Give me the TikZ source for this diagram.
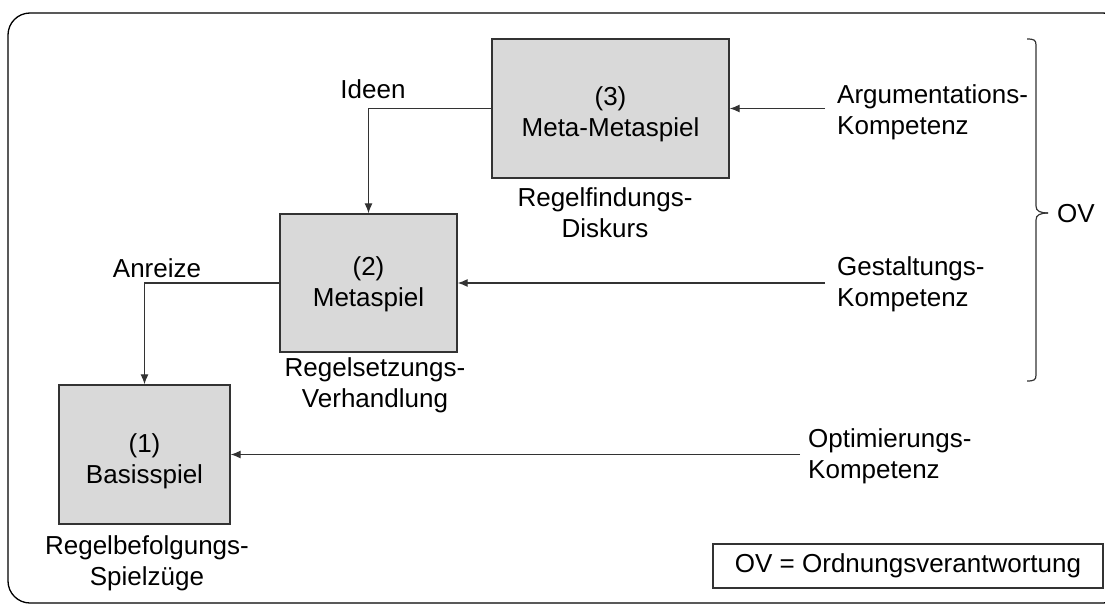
\documentclass[tikz,border=0pt]{standalone}
\usepackage{fontspec}
\setmainfont{Liberation Sans}
\usetikzlibrary{arrows.meta}
\definecolor{boxfill}{HTML}{D9D9D9}
\definecolor{linec}{HTML}{333333}
\tikzset{
  every node/.style={font=\fontsize{26}{31}\selectfont, text=black},
  gamebox/.style={draw=linec, line width=1.3pt, fill=boxfill, inner sep=0pt},
  lbl/.style={align=center, inner sep=0pt},
  lbll/.style={align=left, inner sep=0pt, anchor=west},
  arr/.style={draw=linec, line width=1.2pt, -{Latex[length=10pt,width=8pt]}},
}
\begin{document}
\begin{tikzpicture}[x=1pt,y=-1pt]
\useasboundingbox (0,0) rectangle (1105,605);
\clip (0,0) rectangle (1105,605);
\draw[line width=1.3pt, rounded corners=22pt, draw=black] (8,13) rectangle (1125,603);

% boxes
\node[gamebox, minimum width=237pt, minimum height=139pt] (b3) at (610.5,108.5) {};
\node[gamebox, minimum width=177pt, minimum height=138pt] (b2) at (368.5,283) {};
\node[gamebox, minimum width=171pt, minimum height=139pt] (b1) at (144.5,454.5) {};
\node[lbl] (t3) at (610.5,114) {(3)\\Meta-Metaspiel};
\node[lbl] (t2) at (368.5,284) {(2)\\Metaspiel};
\node[lbl] (t1) at (144.5,461) {(1)\\Basisspiel};

% captions
\node[lbl] (c3) at (605,213) {Regelfindungs-\\Diskurs};
\node[lbl] (c2) at (375,385) {Regelsetzungs-\\Verhandlung};
\node[lbl] (c1) at (147,563) {Regelbefolgungs-\\Spielzüge};

% flow labels
\node[lbl] (ideen) at (373,89) {Ideen};
\node[lbl] (anreize) at (157,268) {Anreize};

% competence labels
\node[lbll] (argk) at (837,112) {Argumentations-\\Kompetenz};
\node[lbll] (gesk) at (837,284) {Gestaltungs-\\Kompetenz};
\node[lbll] (optk) at (808,456) {Optimierungs-\\Kompetenz};

% connectors
\draw[arr] (b3.west) -| (b2.north);
\draw[arr] (b2.west) -| (b1.north);
\draw[arr] ([xshift=-12pt]argk.west |- b3.east) -- (b3.east);
\draw[arr] ([xshift=-12pt]gesk.west |- b2.east) -- (b2.east);
\draw[arr] ([xshift=-8pt]optk.west |- b1.east) -- (b1.east);

% brace
\coordinate (brtop) at (1027,39);
\coordinate (brtip) at (1048,213);
\coordinate (brbot) at (1027,381);
\draw[line width=1.2pt, draw=linec] (brtop) .. controls (1034,39) and (1036,40) .. (1036,45) -- (1036,206) .. controls (1036,211) and (1040,213) .. (brtip);
\draw[line width=1.2pt, draw=linec] (brtip) .. controls (1040,213) and (1036,215) .. (1036,220) -- (1036,375) .. controls (1036,380) and (1034,381) .. (brbot);
\node[lbl] (ov) at (1076,214) {OV};

% legend
\node[draw=linec, line width=1.2pt, minimum width=390pt, minimum height=44pt, inner sep=0pt] (legend) at (908,566) {OV = Ordnungsverantwortung};
\end{tikzpicture}
\end{document}
